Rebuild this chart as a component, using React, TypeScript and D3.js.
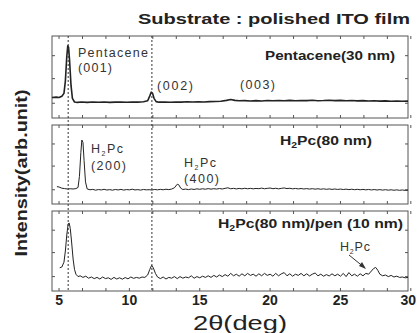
import * as d3 from 'd3';

// 2-theta positions and intensities (arb. units, 0-100 per panel)
const pentaceneX = [4.5, 4.8, 5.0, 5.2, 5.35, 5.45, 5.55, 5.62, 5.68, 5.75, 5.85, 5.95, 6.1, 6.3, 6.6, 7.0, 7.4, 7.8, 8.2, 8.6, 9.0, 9.4, 9.8, 10.2, 10.6, 11.0, 11.3, 11.45, 11.55, 11.65, 11.75, 11.9, 12.1, 12.5, 12.9, 13.3, 13.7, 14.1, 14.5, 14.9, 15.3, 15.7, 16.1, 16.5, 16.9, 17.2, 17.5, 17.8, 18.2, 18.6, 19.0, 19.4, 19.8, 20.2, 20.6, 21.0, 21.4, 21.8, 22.2, 22.6, 23.0, 23.4, 23.8, 24.2, 24.6, 25.0, 25.4, 25.8, 26.2, 26.6, 27.0, 27.4, 27.8, 28.2, 28.6, 29.0, 29.4, 29.8];
const pentaceneY = [25, 25.5, 25, 26.5, 30, 45, 75, 88, 86, 70, 40, 24, 19.5, 19, 19.5, 19, 19.5, 19.2, 19.5, 19, 19.3, 19.5, 19.2, 19.5, 19.4, 19.8, 21, 27, 31.5, 30, 24, 20, 19.3, 19.6, 19.2, 19.5, 19.4, 19.8, 19.5, 19.7, 19.6, 20, 20.2, 20.5, 21.5, 22.5, 21.5, 21, 21.2, 20.8, 21.2, 20.8, 21.3, 21, 21.4, 21.1, 21.5, 21, 21.4, 21.2, 21.6, 21.1, 21.3, 21.7, 21.2, 21.5, 21, 21.3, 20.9, 21.2, 20.8, 21, 20.6, 20.9, 20.5, 20.7, 20.4, 20.6];

const h2pcX = [4.85, 5.0, 5.2, 5.4, 5.6, 5.8, 6.0, 6.2, 6.35, 6.45, 6.55, 6.62, 6.7, 6.78, 6.88, 7.0, 7.2, 7.4, 7.6, 7.8, 8.0, 8.2, 8.4, 8.6, 8.8, 9.0, 9.2, 9.4, 9.6, 9.8, 10.0, 10.2, 10.4, 10.6, 10.8, 11.0, 11.2, 11.4, 11.6, 11.8, 12.0, 12.2, 12.4, 12.6, 12.8, 13.0, 13.2, 13.4, 13.5, 13.65, 13.8, 14.0, 14.2, 14.4, 14.6, 14.8, 15.0, 15.2, 15.4, 15.6, 15.8, 16.0, 16.2, 16.4, 16.6, 16.8, 17.0, 17.2, 17.4, 17.6, 17.8, 18.0, 18.2, 18.4, 18.6, 18.8, 19.0, 19.2, 19.4, 19.6, 19.8, 20.0, 20.2, 20.4, 20.6, 20.8, 21.0, 21.2, 21.4, 21.6, 21.8, 22.0, 22.2, 22.4, 22.6, 22.8, 23.0, 23.2, 23.4, 23.6, 23.8, 24.0, 24.2, 24.4, 24.6, 24.8, 25.0, 25.2, 25.4, 25.6, 25.8, 26.0, 26.2, 26.4, 26.6, 26.8, 27.0, 27.2, 27.4, 27.6, 27.8, 28.0, 28.2, 28.4, 28.6, 28.8, 29.0, 29.2, 29.4, 29.6, 29.8];
const h2pcY = [22, 21.5, 20, 19.5, 19, 19.3, 19, 19.5, 21, 35, 65, 81, 78, 55, 28, 19, 18, 18.5, 17.5, 18.3, 17.8, 18.6, 17.7, 18.2, 17.5, 18.4, 17.8, 18.5, 17.6, 18.3, 17.9, 18.7, 17.8, 18.2, 17.6, 18.4, 17.9, 18.1, 17.7, 18.4, 17.9, 18.5, 18, 18.7, 18.2, 18.9, 20.5, 25, 24.5, 20, 18.3, 18.9, 18.2, 19, 18.4, 19.2, 18.6, 19.3, 18.7, 19.5, 18.8, 19.4, 18.9, 19.6, 19, 19.8, 20.5, 19.3, 19.8, 19.1, 19.7, 19.2, 19.9, 19.3, 19.8, 19.2, 19.7, 19.4, 20.1, 19.3, 19.8, 20.2, 19.4, 19.9, 19.2, 19.8, 20.3, 19.5, 19.9, 19.2, 19.7, 19.1, 19.6, 19, 19.5, 18.9, 19.4, 18.8, 19.3, 18.7, 19.2, 18.6, 19.1, 18.5, 19, 18.4, 18.9, 18.3, 18.8, 18.2, 18.7, 18.1, 18.6, 18, 18.5, 17.9, 18.4, 17.8, 18.3, 17.7, 18.2, 17.6, 18.1, 17.5, 18, 17.4, 17.9, 17.3, 17.8, 17.2, 17.5];

const bilayerX = [5.05, 5.2, 5.35, 5.45, 5.55, 5.65, 5.72, 5.8, 5.9, 6.0, 6.1, 6.2, 6.35, 6.5, 6.7, 6.9, 7.1, 7.3, 7.5, 7.7, 7.9, 8.1, 8.3, 8.5, 8.7, 8.9, 9.1, 9.3, 9.5, 9.7, 9.9, 10.1, 10.3, 10.5, 10.7, 10.9, 11.1, 11.3, 11.45, 11.58, 11.7, 11.85, 12.0, 12.2, 12.4, 12.6, 12.8, 13.0, 13.2, 13.4, 13.6, 13.8, 14.0, 14.2, 14.4, 14.6, 14.8, 15.0, 15.2, 15.4, 15.6, 15.8, 16.0, 16.2, 16.4, 16.6, 16.8, 17.0, 17.2, 17.4, 17.6, 17.8, 18.0, 18.2, 18.4, 18.6, 18.8, 19.0, 19.2, 19.4, 19.6, 19.8, 20.0, 20.2, 20.4, 20.6, 20.8, 21.0, 21.2, 21.4, 21.6, 21.8, 22.0, 22.2, 22.4, 22.6, 22.8, 23.0, 23.2, 23.4, 23.6, 23.8, 24.0, 24.2, 24.4, 24.6, 24.8, 25.0, 25.2, 25.4, 25.6, 25.8, 26.0, 26.2, 26.4, 26.6, 26.8, 27.0, 27.2, 27.35, 27.5, 27.65, 27.8, 28.0, 28.2, 28.4, 28.6, 28.8, 29.0, 29.2, 29.4, 29.6, 29.8];
const bilayerY = [29, 30, 36, 50, 70, 84, 85, 78, 60, 40, 27, 21, 18, 19, 17, 18.5, 16, 17.5, 15.5, 17, 15, 17.5, 15.5, 16.5, 14.5, 17, 15, 16.5, 14.8, 16.8, 15.2, 17.5, 15.8, 17, 16, 17.5, 17, 20, 27, 32, 29, 22, 17.5, 15.5, 17.5, 15, 17, 16, 18, 15.5, 18, 16, 17.5, 16.5, 19, 16, 18, 16.5, 18.5, 17, 19, 17, 19.5, 17.5, 20, 18, 20.5, 18.5, 22, 19, 21, 18.5, 21.5, 19, 22, 19.5, 21, 18.5, 21.5, 19, 22, 19.5, 21, 18.5, 22, 19, 21.5, 23, 19, 21.5, 18.5, 21, 19.5, 22, 19, 21.5, 18.8, 21, 22.5, 19, 21, 18.5, 20.5, 18.8, 21.5, 19, 21, 18.5, 22, 18, 23, 19, 21, 18.5, 21.5, 19, 22, 21, 25, 28, 29.5, 26, 21, 19, 20, 18, 19.5, 17.5, 18.5, 17, 17.5, 16.5, 17];

const xTickLabels = [5, 10, 15, 20, 25, 30];
const yTickValues = [18, 48, 76];
const peakLines = [5.65, 11.6];

const width = 417;
const height = 333;
const left = 52;
const right = 408;
const panels = [
  { top: 36, bottom: 118, xs: pentaceneX, ys: pentaceneY, stroke: 1.6 },
  { top: 125, bottom: 204, xs: h2pcX, ys: h2pcY, stroke: 1 },
  { top: 211, bottom: 291, xs: bilayerX, ys: bilayerY, stroke: 1 },
];

const x = d3.scaleLinear().domain([4.5, 29.8]).range([left, right]);
const minorTicks = d3.range(0, 16).map((i) => 5 + (i * 5) / 3);

const sans = 'Liberation Sans, Arial, sans-serif';

// H2Pc with subscript 2
const H2Pc = ({ sub, rest }: { sub: number; rest: string }) => (
  <>
    H<tspan fontSize={sub} dy={3}>2</tspan>
    <tspan dy={-3}>{rest}</tspan>
  </>
);

export default function App() {
  return (
    <svg width={width} height={height} style={{ display: 'block', position: 'absolute', left: 0, top: 0, background: '#fff' }}>
      <rect width={width} height={height} fill="#fff" />
      {panels.map((p, i) => {
        const y = d3.scaleLinear().domain([0, 100]).range([p.bottom, p.top]);
        const line = d3.line<number>().x((d, j) => x(p.xs[j])).y((d) => y(d));
        return (
          <g key={i}>
            <rect x={left} y={p.top} width={right - left} height={p.bottom - p.top} fill="none" stroke="#555" strokeWidth={1} />
            {minorTicks.map((t) => (
              <g key={t} stroke="#555" strokeWidth={1}>
                <line x1={x(t)} x2={x(t)} y1={p.top} y2={p.top + 3} />
                <line x1={x(t)} x2={x(t)} y1={p.bottom} y2={p.bottom - 3} />
              </g>
            ))}
            {yTickValues.map((t) => (
              <g key={t} stroke="#555" strokeWidth={1}>
                <line x1={left} x2={left + 3} y1={y(t)} y2={y(t)} />
                <line x1={right} x2={right - 3} y1={y(t)} y2={y(t)} />
              </g>
            ))}
            <path d={line(p.ys) ?? ''} fill="none" stroke="#222" strokeWidth={p.stroke} strokeLinejoin="round" />
          </g>
        );
      })}

      {peakLines.map((v) => (
        <line key={v} x1={x(v)} x2={x(v)} y1={36} y2={291} stroke="#333" strokeWidth={1} strokeDasharray="2,2" />
      ))}

      {/* x tick labels; the last one is pulled in so it stays on the page */}
      {xTickLabels.map((t) => {
        const last = t === xTickLabels[xTickLabels.length - 1];
        return (
          <text
            key={t}
            x={last ? width - 1 : x(t)}
            y={305}
            textAnchor={last ? 'end' : 'middle'}
            fontFamily={sans}
            fontWeight="bold"
            fontSize={14}
            fill="#222"
          >
            {t}
          </text>
        );
      })}
      <text x={193} y={330} fontFamily={sans} fontSize={21} textLength={94} lengthAdjust="spacingAndGlyphs" fill="#222">
        2θ(deg)
      </text>

      {/* y axis title */}
      <text
        transform="translate(27,173) rotate(-90)"
        textAnchor="middle"
        fontFamily="Liberation Sans Narrow, Arial Narrow, sans-serif"
        fontWeight="bold"
        fontSize={16}
        textLength={167}
        lengthAdjust="spacingAndGlyphs"
        fill="#222"
      >
        Intensity(arb.unit)
      </text>

      {/* title */}
      <text x={138} y={24} fontFamily={sans} fontWeight="bold" fontSize={15} textLength={272} lengthAdjust="spacingAndGlyphs" fill="#222">
        Substrate : polished ITO film
      </text>

      {/* panel labels */}
      <text x={265} y={60} fontFamily={sans} fontWeight="bold" fontSize={13.5} textLength={130} lengthAdjust="spacingAndGlyphs" fill="#222">
        Pentacene(30 nm)
      </text>
      <text x={280} y={145} fontFamily={sans} fontWeight="bold" fontSize={13.5} textLength={92} lengthAdjust="spacingAndGlyphs" fill="#222">
        <H2Pc sub={9} rest="Pc(80 nm)" />
      </text>
      <text x={218} y={228} fontFamily={sans} fontWeight="bold" fontSize={13.5} textLength={185} lengthAdjust="spacingAndGlyphs" fill="#222">
        <H2Pc sub={9} rest="Pc(80 nm)/pen (10 nm)" />
      </text>

      {/* peak annotations */}
      <g fontFamily={sans} fontSize={12.5} fill="#333" lengthAdjust="spacingAndGlyphs">
        <text x={78} y={57} textLength={70}>Pentacene</text>
        <text x={78} y={72} textLength={34}>(001)</text>
        <text x={157} y={90} textLength={36}>(002)</text>
        <text x={240} y={89} textLength={35}>(003)</text>
        <text x={91} y={153} textLength={32}><H2Pc sub={7} rest="Pc" /></text>
        <text x={91} y={170} textLength={35}>(200)</text>
        <text x={184} y={167} textLength={32}><H2Pc sub={7} rest="Pc" /></text>
        <text x={184} y={183} textLength={35}>(400)</text>
        <text x={340} y={251} textLength={30}><H2Pc sub={7} rest="Pc" /></text>
      </g>
      <line x1={349} y1={255} x2={365} y2={268} stroke="#333" strokeWidth={1} />
      <path d="M366,269 L359,266 L362,262 Z" fill="#333" />
    </svg>
  );
}
